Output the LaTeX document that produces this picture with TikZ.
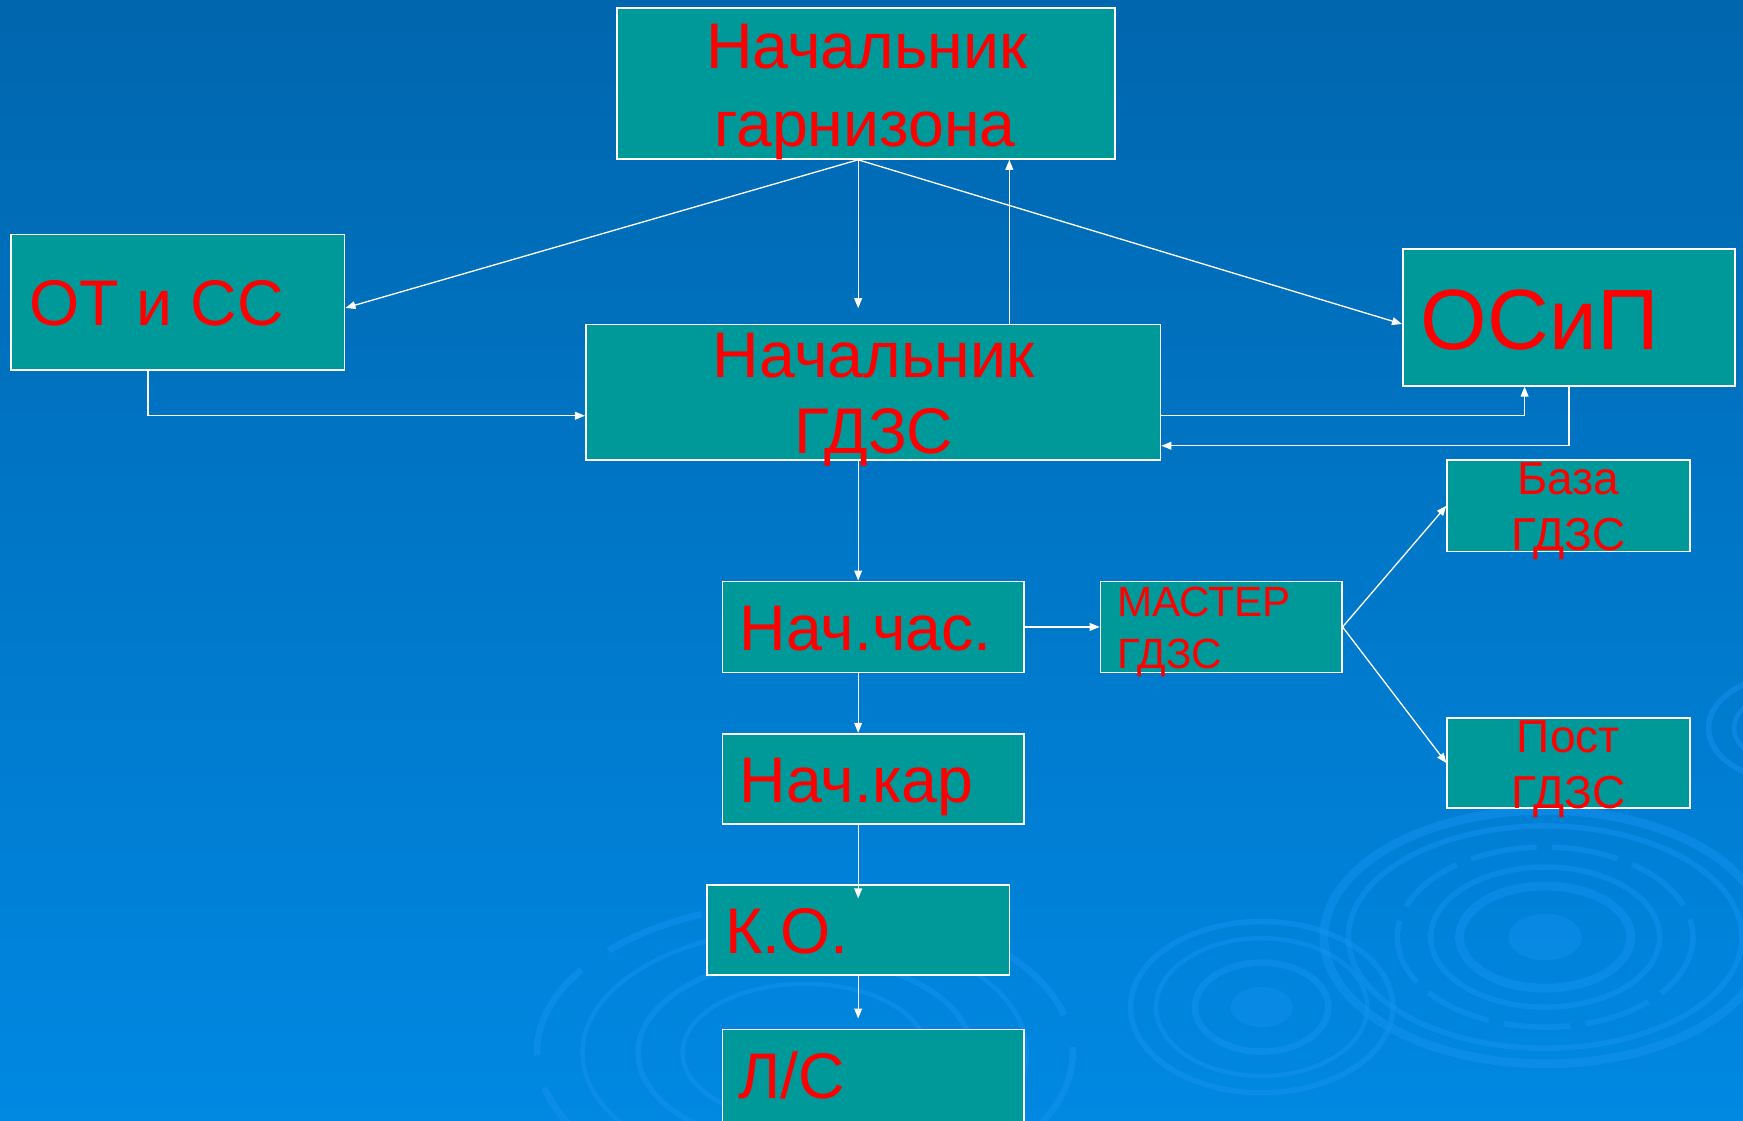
\documentclass[tikz,border=0pt]{standalone}
\usepackage{fontspec}
\setmainfont{Liberation Sans}
\usetikzlibrary{positioning}
\usetikzlibrary{arrows.meta,calc}
\definecolor{bgtop}{RGB}{0,102,174}
\definecolor{bgbot}{RGB}{0,136,226}
\definecolor{boxteal}{RGB}{0,153,153}
\definecolor{ringblue}{RGB}{20,146,240}
\begin{document}
\begin{tikzpicture}[x=1pt,y=-1pt,
  box/.style={rectangle,draw=white,line width=1.5pt,fill=boxteal,inner sep=0pt},
  txt/.style={text=red,inner sep=0pt},
  big/.style={font=\fontsize{58pt}{70pt}\selectfont},
  small/.style={font=\fontsize{41.5pt}{50pt}\selectfont},
  arr/.style={draw=white,line width=1.2pt,-{Triangle[length=9pt,width=7pt]}},
  ring/.style={draw=ringblue,opacity=0.5,line width=#1},
  ring/.default=5pt]
  \useasboundingbox (0,0) rectangle (1568,1008);
  \fill[top color=bgtop,bottom color=bgbot] (0,0) rectangle (1568,1008);
  % rings in the background
  \begin{scope}
    \clip (0,0) rectangle (1568,1008);
    \draw[ring=8pt] (1390,843) ellipse [x radius=199,y radius=114];
    \draw[ring=5pt] (1390,843) ellipse [x radius=177,y radius=100];
    \draw[ring=5pt,dash pattern=on 60pt off 14pt] (1390,843) ellipse [x radius=133,y radius=81];
    \draw[ring=5pt] (1390,843) ellipse [x radius=103,y radius=63];
    \draw[ring=8pt] (1390,843) ellipse [x radius=77,y radius=46];
    \fill[ringblue,opacity=0.4] (1390,843) ellipse [x radius=33,y radius=21];
    \draw[ring=5pt] (1135,906) ellipse [x radius=118,y radius=77];
    \draw[ring=4pt] (1135,906) ellipse [x radius=95,y radius=62];
    \draw[ring=6pt] (1135,906) ellipse [x radius=60,y radius=40];
    \fill[ringblue,opacity=0.4] (1135,906) ellipse [x radius=28,y radius=18];
    \draw[ring=6pt,dash pattern=on 90pt off 30pt] (724,947) ellipse [x radius=241,y radius=135];
    \draw[ring=4pt] (724,947) ellipse [x radius=200,y radius=112];
    \draw[ring=5pt] (724,947) ellipse [x radius=150,y radius=85];
    \draw[ring=4pt] (724,947) ellipse [x radius=110,y radius=62];
    \draw[ring=5pt] (1612,655) ellipse [x radius=75,y radius=48];
    \draw[ring=4pt] (1612,655) ellipse [x radius=52,y radius=33];
  \end{scope}
  % boxes
  \node[box,minimum width=448pt,minimum height=136pt] (gar) at (779,75) {};
  \node[box,minimum width=300pt,minimum height=122pt] (otss) at (160,272) {};
  \node[box,minimum width=517pt,minimum height=122pt] (gdzs) at (785.5,353) {};
  \node[box,minimum width=299pt,minimum height=123pt] (osip) at (1411.5,285.5) {};
  \node[box,minimum width=218pt,minimum height=82pt] (baza) at (1411,455) {};
  \node[box,minimum width=271pt,minimum height=82pt] (nachas) at (785.5,564) {};
  \node[box,minimum width=217pt,minimum height=82pt] (master) at (1098.5,564) {};
  \node[box,minimum width=218pt,minimum height=81pt] (post) at (1411,686.5) {};
  \node[box,minimum width=271pt,minimum height=81pt] (nachkar) at (785.5,700.5) {};
  \node[box,minimum width=272pt,minimum height=81pt] (ko) at (772,836.5) {};
  \node[box,minimum width=271pt,minimum height=90pt] (ls) at (785.5,971) {};
  % texts
  \node[txt,big,anchor=base] (gar-a) at (780,62) {Начальник};
  \node[txt,big,anchor=base] (gar-b) at (778,132) {гарнизона};
  \node[txt,big,anchor=base west] (otss-t) at (26,293) {ОТ и СС};
  \node[txt,big,anchor=base] (gdzs-a) at (786,340) {Начальник};
  \node[txt,big,anchor=base] (gdzs-b) at (786,408) {ГДЗС};
  \node[txt,font=\fontsize{77pt}{90pt}\selectfont,anchor=base west] (osip-t) at (1278,314) {ОСиП};
  \node[txt,small,anchor=base] (baza-a) at (1411,445) {База};
  \node[txt,small,anchor=base] (baza-b) at (1411,495) {ГДЗС};
  \node[txt,small,anchor=base] (post-a) at (1411,676.5) {Пост};
  \node[txt,small,anchor=base] (post-b) at (1411,727) {ГДЗС};
  \node[txt,big,anchor=base west] (nachas-t) at (665,585) {Нач.час.};
  \node[txt,font=\fontsize{38pt}{46pt}\selectfont,anchor=base west] (master-a) at (1005,555) {МАСТЕР};
  \node[txt,font=\fontsize{38pt}{46pt}\selectfont,anchor=base west] (master-b) at (1005,601) {ГДЗС};
  \node[txt,big,anchor=base west] (nachkar-t) at (665,721.5) {Нач.кар};
  \node[txt,big,anchor=base west] (ko-t) at (652,858) {К.О.};
  \node[txt,big,anchor=base west] (ls-t) at (664,988) {Л/С};
  % connectors
  \coordinate (fan) at ([xshift=-7pt]gar.south);
  \draw[arr] (fan) -- ([yshift=-5pt]otss.east);
  \draw[arr,shorten >=14pt] (fan) -- (fan |- gdzs.north);
  \draw[arr] (fan) -- ([yshift=-6pt]osip.west);
  \draw[arr] ([xshift=122.5pt]gdzs.north) -- ([xshift=122.5pt]gdzs.north |- gar.south);
  \draw[arr] ([xshift=-27pt]otss.south) |- ([yshift=-21pt]gdzs.west);
  \draw[arr] ([yshift=-21pt]gdzs.east) -| ([xshift=-40pt]osip.south);
  \draw[arr] (osip.south) |- ([yshift=-48pt]gdzs.east);
  \draw[arr] ([xshift=-13.5pt]gdzs.south) -- ([xshift=-13.5pt]nachas.north);
  \draw[arr] (nachas.east) -- (master.west);
  \draw[arr] (master.east) -- (baza.west);
  \draw[arr] (master.east) -- (post.west);
  \draw[arr] ([xshift=-13.5pt]nachas.south) -- ([xshift=-13.5pt]nachkar.north);
  \draw[arr,shorten >=-13pt] ([xshift=-13.5pt]nachkar.south) -- (ko.north);
  \draw[arr,shorten >=9pt] (ko.south) -- (ko.south |- ls.north);
\end{tikzpicture}
\end{document}
